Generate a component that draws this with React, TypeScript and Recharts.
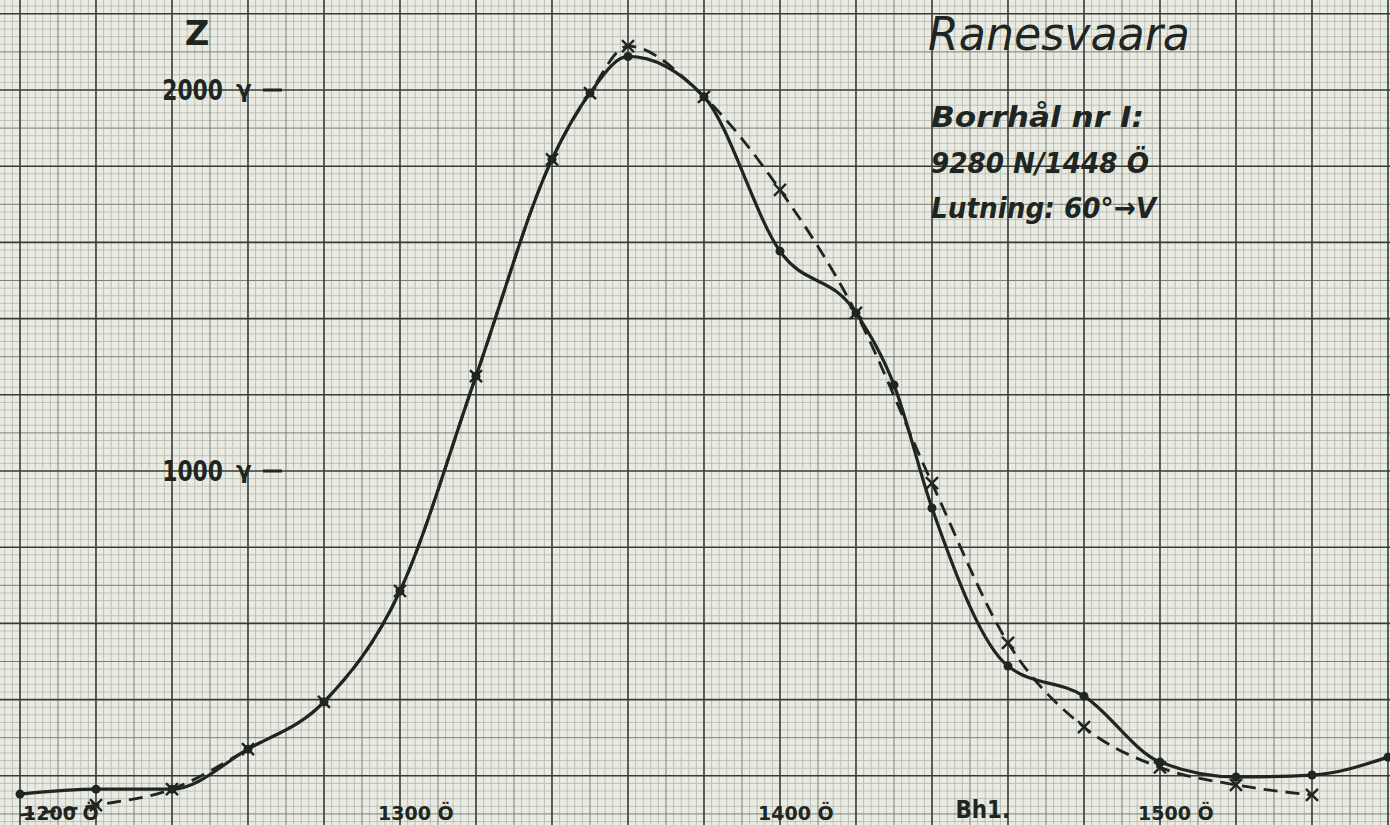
import React from 'react'
import { LineChart, Line, XAxis, YAxis, CartesianGrid, Customized } from 'recharts'

// Östlig koordinat (m) och Z (gamma) – heldragen kurva
const solidEast = [1200, 1220, 1240, 1260, 1280, 1300, 1320, 1340, 1350, 1360, 1380, 1400, 1420, 1430, 1440, 1460, 1480, 1500, 1520, 1540, 1560]
const solidZ = [152, 165, 165, 270, 394, 685, 1249, 1818, 1992, 2088, 1982, 1577, 1415, 1226, 903, 488, 409, 236, 197, 202, 249]

// streckad kurva (kryss)
const dashedEast = [1200, 1220, 1240, 1260, 1280, 1300, 1320, 1340, 1350, 1360, 1380, 1400, 1420, 1440, 1460, 1480, 1500, 1520, 1540]
const dashedZ = [97, 123, 165, 270, 394, 685, 1249, 1818, 1992, 2115, 1982, 1738, 1415, 968, 549, 328, 222, 176, 150]

const xTicks = [1200, 1300, 1400, 1500]
const yTicks = [1000, 2000]
const boreholeEast = 1448
const boreholeLabel = 'Bh1.'

const titleLines = ['Borrhål nr I:', '9280 N/1448 Ö', 'Lutning: 60°→V']

const INK = '#1f2521'
const PAPER = '#eaece3'

const X_DOMAIN: [number, number] = [1194.74, 1560.53]
const Y_DOMAIN: [number, number] = [70.9, 2236.2]

const range = (from: number, to: number, step: number) => {
  const out: number[] = []
  for (let v = from; v <= to; v += step) out.push(v)
  return out
}

// millimeterpapper
const fineX = range(1196, 1560, 2).filter((v) => v % 10 !== 0)
const midX = range(1200, 1560, 10).filter((v) => v % 20 !== 0)
const majorX = range(1200, 1560, 20)
const fineY = range(80, 2220, 20).filter((v) => v % 100 !== 0)
const midY = range(100, 2200, 100).filter((v) => v % 200 !== 0)
const majorY = range(200, 2200, 200)

const solidData = solidEast.map((x, i) => ({ x, z: solidZ[i] }))
const dashedData = dashedEast.map((x, i) => ({ x, z: dashedZ[i] }))

const CrossDot = (props: any) => {
  const { cx, cy, index } = props
  // första punkten saknar kryss i originalet
  if (cx == null || cy == null || index === 0) return null
  const s = 6
  return (
    <g stroke={INK} strokeWidth={2.4}>
      <line x1={cx - s} y1={cy - s} x2={cx + s} y2={cy + s} />
      <line x1={cx - s} y1={cy + s} x2={cx + s} y2={cy - s} />
    </g>
  )
}

const XTick = (props: any) => {
  const { x, payload } = props
  const v = payload.value
  if (v === boreholeEast) {
    return (
      <g transform={`translate(${x - 7}, 818) scale(0.86, 1)`}>
        <text fontSize={25} fontWeight={700} fill={INK} fontFamily='DejaVu Sans'>{boreholeLabel}</text>
      </g>
    )
  }
  const dx = v === xTicks[0] ? 3 : -22
  return (
    <g transform={`translate(${x + dx}, 820) scale(0.95, 1)`}>
      <text fontSize={20} fontWeight={700} fill={INK} fontFamily='DejaVu Sans'>{`${v} Ö`}</text>
    </g>
  )
}

const YTick = (props: any) => {
  const { y, payload } = props
  return (
    <g fill={INK} fontFamily='DejaVu Sans' fontWeight={700}>
      <g transform={`translate(223, ${y + 10}) scale(0.78, 1)`}>
        <text textAnchor='end' fontSize={28}>{payload.value}</text>
      </g>
      <text x={236} y={y + 7} fontSize={23}>γ</text>
      <line x1={263} x2={282} y1={y} y2={y} stroke={INK} strokeWidth={3} />
    </g>
  )
}

const Annotations = () => (
  <g fill={INK} fontFamily='DejaVu Sans'>
    <text x={197} y={45} textAnchor='middle' fontSize={34} fontWeight={700}>Z</text>
    <text x={928} y={50} fontSize={46} fontStyle='italic' textLength={262} lengthAdjust='spacingAndGlyphs'>Ranesvaara</text>
    {titleLines.map((t, i) => (
      <text key={t} x={931} y={127 + i * 45.5} fontSize={29} fontStyle='italic' fontWeight={700}
        textLength={[213, 218, 225][i]} lengthAdjust='spacingAndGlyphs'>{t}</text>
    ))}
  </g>
)

export default function App() {
  return (
    <div style={{ position: 'absolute', left: 0, top: 0, width: 1390, height: 825, background: PAPER, overflow: 'hidden' }}>
      <LineChart width={1390} height={825} margin={{ top: 0, right: 0, bottom: 0, left: 0 }}>
        <XAxis dataKey='x' type='number' domain={X_DOMAIN} allowDataOverflow ticks={[...xTicks, boreholeEast]}
          interval={0} mirror axisLine={false} tickLine={false} tick={<XTick />} />
        <YAxis type='number' domain={Y_DOMAIN} allowDataOverflow ticks={yTicks}
          interval={0} mirror axisLine={false} tickLine={false} tick={<YTick />} />

        <CartesianGrid verticalValues={fineX} horizontalValues={fineY} stroke='#b3b7ad' strokeWidth={0.8} />
        <CartesianGrid verticalValues={midX} horizontalValues={midY} stroke='#7a7f77' strokeWidth={1} />
        <CartesianGrid verticalValues={majorX} horizontalValues={majorY} stroke='#363b36' strokeWidth={1.6} />

        <Line data={dashedData} dataKey='z' type='monotone' stroke={INK} strokeWidth={2.8} strokeDasharray='14 8'
          dot={<CrossDot />} activeDot={false} isAnimationActive={false} />
        <Line data={solidData} dataKey='z' type='monotone' stroke={INK} strokeWidth={3.2}
          dot={{ r: 4.5, fill: INK, stroke: INK, strokeWidth: 0 }} activeDot={false} isAnimationActive={false} />

        <Customized component={Annotations} />
      </LineChart>
    </div>
  )
}
